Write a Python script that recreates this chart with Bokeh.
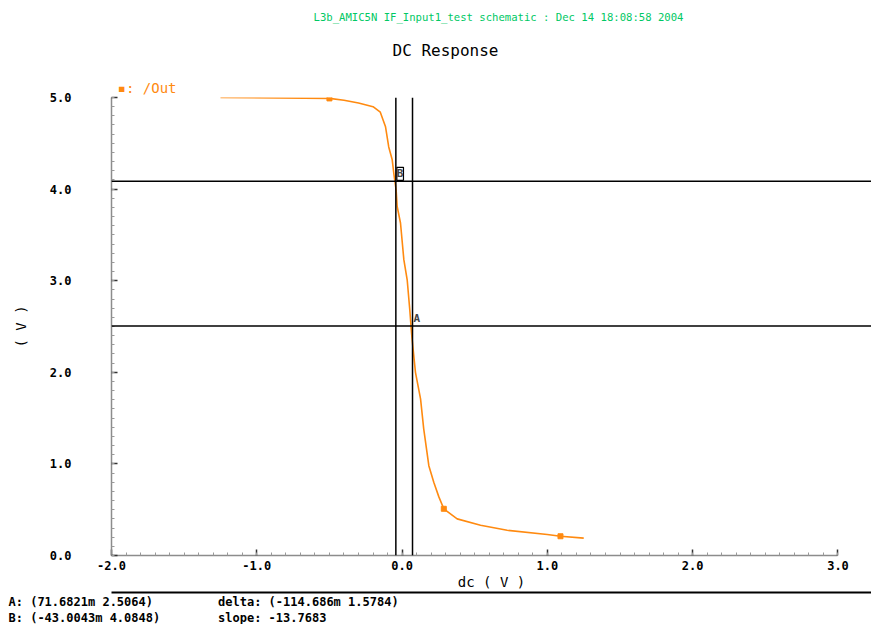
from bokeh.plotting import figure
from bokeh.models import (Range1d, Span, Label, Title, LinearAxis, FixedTicker,
                          SingleIntervalTicker, PrintfTickFormatter)
from bokeh.embed import file_html
from bokeh.resources import INLINE

# ---- data ----
dc = [-1.25, -0.5, -0.4, -0.3, -0.2, -0.15, -0.114, -0.092, -0.068, -0.057, -0.041,
      -0.034, -0.011, 0.012, 0.035, 0.053, 0.065, 0.069, 0.092, 0.127, 0.149, 0.184,
      0.218, 0.253, 0.287, 0.379, 0.54, 0.723, 0.999, 1.09, 1.25]
out = [5.0, 4.99, 4.97, 4.94, 4.90, 4.84, 4.68, 4.46, 4.32, 4.17, 3.99,
       3.81, 3.63, 3.23, 3.01, 2.68, 2.43, 2.36, 2.00, 1.71, 1.38, 0.98,
       0.80, 0.64, 0.51, 0.40, 0.33, 0.275, 0.23, 0.21, 0.19]
mark_dc = [-0.5, 0.287, 1.09]
mark_out = [4.99, 0.51, 0.21]

cursor_a_x, cursor_a_y = 0.0716821, 2.5064
cursor_b_x, cursor_b_y = -0.0430043, 4.0848

title_text = "L3b_AMIC5N IF_Input1_test schematic : Dec 14 18:08:58 2004"
subtitle_text = "DC Response"
legend_text = "\u25aa: /Out"
x_label = "dc ( V )"
y_label = "( V )"
info_a = "A: (71.6821m 2.5064)"
info_b = "B: (-43.0043m 4.0848)"
info_delta = "delta: (-114.686m 1.5784)"
info_slope = "slope: -13.7683"

ORANGE = "#ff8a10"
GREEN = "#00c864"
MONO = "DejaVu Sans Mono"
NBSP = "\u00a0"

p = figure(width=871, height=624, x_range=Range1d(-2, 3.2306), y_range=Range1d(0, 5),
           output_backend="svg", toolbar_location=None, title=None,
           min_border_left=111, min_border_right=0, min_border_top=97, min_border_bottom=67)
p.grid.visible = False
p.outline_line_color = None
p.background_fill_color = "white"

for ax in (p.xaxis[0], p.yaxis[0]):
    ax.ticker = SingleIntervalTicker(interval=1, num_minor_ticks=10)
    ax.formatter = PrintfTickFormatter(format="%.1f")
    ax.axis_line_color = "#8c8c8c"
    ax.axis_line_width = 1.5
    ax.major_tick_in = 6
    ax.major_tick_out = 0
    ax.minor_tick_in = 3
    ax.minor_tick_out = 0
    ax.major_tick_line_color = "#333333"
    ax.major_tick_line_width = 1.5
    ax.minor_tick_line_color = "#999999"
    ax.major_label_text_font = MONO
    ax.major_label_text_font_style = "bold"
    ax.major_label_text_font_size = "12px"
    ax.major_label_text_color = "black"
    ax.axis_label_text_font = MONO
    ax.axis_label_text_font_style = "normal"
    ax.axis_label_text_font_size = "14px"
    ax.axis_label_text_color = "black"

p.xaxis.bounds = (-2, 3)
p.yaxis.bounds = (0, 5)
p.xaxis.axis_label = x_label
p.yaxis.axis_label = y_label
p.xaxis.major_label_standoff = 5
p.xaxis.axis_label_standoff = 1
p.yaxis.major_label_standoff = 40
p.yaxis.axis_label_standoff = 18

# separator line below the x axis (an empty axis that only draws its line)
sep = LinearAxis(ticker=FixedTicker(ticks=[]), axis_line_color="black", axis_line_width=2,
                 major_tick_line_color=None, minor_tick_line_color=None,
                 major_label_text_font_size="0px")
p.add_layout(sep, "below")

# cursor info lines below
line1 = info_a.ljust(29).replace(" ", NBSP) + info_delta
line2 = info_b.ljust(29).replace(" ", NBSP) + info_slope
for txt in (line1, line2):
    p.add_layout(Title(text=txt, align="left", offset=-103, standoff=0,
                       text_font=MONO, text_font_size="12px", text_font_style="bold",
                       text_color="black"), "below")

# titles / legend above (first added is nearest the frame)
p.add_layout(Title(text=legend_text, align="left", offset=6, standoff=4,
                   text_font=MONO, text_font_size="14px", text_font_style="normal",
                   text_color=ORANGE), "above")
p.add_layout(Title(text=subtitle_text, align="left", offset=281, standoff=32,
                   text_font=MONO, text_font_size="16px", text_font_style="normal",
                   text_color="black"), "above")
p.add_layout(Title(text=title_text, align="left", offset=202, standoff=0,
                   text_font=MONO, text_font_size="10.6px", text_font_style="normal",
                   text_color=GREEN), "above")

# cursor lines
for loc in (cursor_b_x, cursor_a_x):
    p.add_layout(Span(location=loc, dimension="height", line_color="black", line_width=1.5))
for loc in (cursor_b_y, cursor_a_y):
    p.add_layout(Span(location=loc, dimension="width", line_color="black", line_width=1.5))

# curve
p.line(dc, out, line_color=ORANGE, line_width=1.6)
p.scatter(mark_dc, mark_out, marker="square", size=5, color=ORANGE)

# cursor labels
p.add_layout(Label(x=cursor_b_x, y=cursor_b_y, text="B", text_font=MONO, text_font_size="11px",
                   text_font_style="bold", text_align="left", text_baseline="bottom",
                   x_offset=1, y_offset=1, border_line_color="black", border_line_width=1.2,
                   background_fill_color="white", padding=0))
p.add_layout(Label(x=cursor_a_x, y=cursor_a_y, text="A", text_font=MONO, text_font_size="11px",
                   text_font_style="bold", text_align="left", text_baseline="bottom",
                   x_offset=1, y_offset=1))

open("out.html", "w").write(file_html(p, INLINE))
